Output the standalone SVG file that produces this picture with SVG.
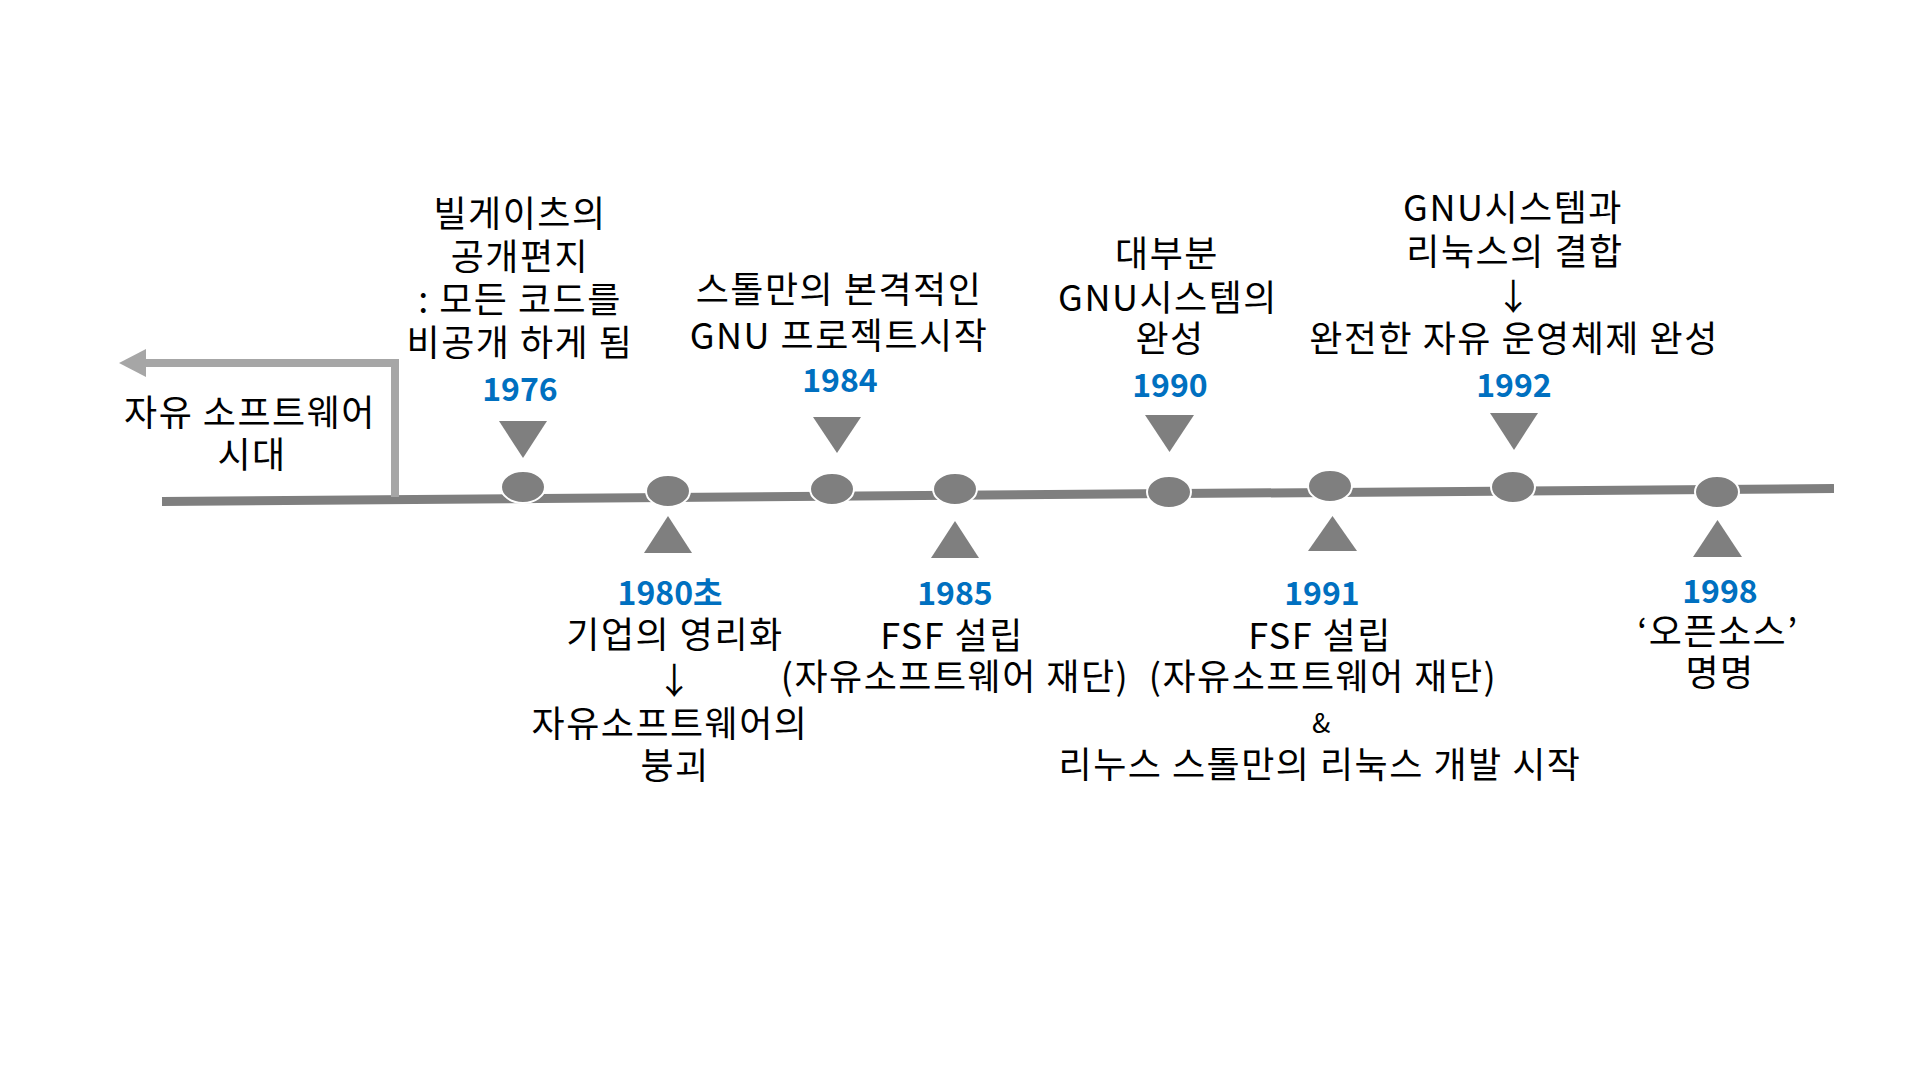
<svg xmlns="http://www.w3.org/2000/svg" width="1920" height="1080" viewBox="0 0 1920 1080">
<style>
.t{font-family:"Noto Sans CJK KR","Noto Sans",sans-serif;font-size:36px;letter-spacing:1.5px;fill:#000;text-anchor:middle}
.y{font-family:"Noto Sans CJK KR","Noto Sans",sans-serif;font-size:32px;font-weight:bold;fill:#0070c0;text-anchor:middle}
.n{fill:#7f7f7f;stroke:#fff;stroke-width:2}
.tri{fill:#7f7f7f}
</style>
<rect width="1920" height="1080" fill="#fff"/>
<g id="connectors">
<line x1="162" y1="501.5" x2="1834" y2="488.5" stroke="#7f7f7f" stroke-width="9"/>
<polyline points="395,497 395,363 143,363" fill="none" stroke="#a6a6a6" stroke-width="8"/>
<polygon points="119,363 146,349 146,377" fill="#a6a6a6"/>
</g>
<g id="era">
<text class="t" x="250" y="426">자유 소프트웨어</text>
<text class="t" x="252" y="468">시대</text>
</g>
<g id="node-1976">
<ellipse class="n" cx="523" cy="487" rx="22" ry="16"/>
<polygon class="tri" points="499,421 547,421 523,458"/>
<text class="y" x="520" y="401">1976</text>
<text class="t" x="520" y="227">빌게이츠의</text>
<text class="t" x="520" y="270">공개편지</text>
<text class="t" x="520" y="313">: 모든 코드를</text>
<text class="t" x="520" y="356">비공개 하게 됨</text>
</g>
<g id="node-1980">
<ellipse class="n" cx="668" cy="491" rx="22" ry="16"/>
<polygon class="tri" points="644,553 692,553 668,516"/>
<text class="y" x="670" y="605">1980초</text>
<text class="t" x="675" y="648">기업의 영리화</text>
<text class="t" x="675" y="694">↓</text>
<text class="t" x="670" y="737">자유소프트웨어의</text>
<text class="t" x="675" y="779">붕괴</text>
</g>
<g id="node-1984">
<ellipse class="n" cx="832" cy="489" rx="22" ry="16"/>
<polygon class="tri" points="813,417 861,417 837,453"/>
<text class="y" x="840" y="392">1984</text>
<text class="t" x="839" y="303">스톨만의 본격적인</text>
<text class="t" x="839" y="349">GNU 프로젝트시작</text>
</g>
<g id="node-1985">
<ellipse class="n" cx="955" cy="489" rx="22" ry="16"/>
<polygon class="tri" points="931,558 979,558 955,521"/>
<text class="y" x="955" y="605">1985</text>
<text class="t" x="952" y="649">FSF 설립</text>
<text class="t" x="955" y="690">(자유소프트웨어 재단)</text>
</g>
<g id="node-1990">
<ellipse class="n" cx="1169" cy="492" rx="22" ry="16"/>
<polygon class="tri" points="1145,415 1194,415 1169.5,452"/>
<text class="y" x="1170" y="397">1990</text>
<text class="t" x="1167" y="267">대부분</text>
<text class="t" x="1168" y="311">GNU시스템의</text>
<text class="t" x="1170" y="352">완성</text>
</g>
<g id="node-1991">
<ellipse class="n" cx="1330" cy="486" rx="22" ry="16"/>
<polygon class="tri" points="1308,551 1357,551 1332.5,516"/>
<text class="y" x="1322" y="605">1991</text>
<text class="t" x="1320" y="649">FSF 설립</text>
<text class="t" x="1323" y="690">(자유소프트웨어 재단)</text>
<text class="t" x="1322" y="733" style="font-size:27px">&amp;</text>
<text class="t" x="1320" y="778">리누스 스톨만의 리눅스 개발 시작</text>
</g>
<g id="node-1992">
<ellipse class="n" cx="1513" cy="487" rx="22" ry="16"/>
<polygon class="tri" points="1490,413 1538,413 1514,450"/>
<text class="y" x="1514" y="397">1992</text>
<text class="t" x="1513" y="221">GNU시스템과</text>
<text class="t" x="1515" y="265">리눅스의 결합</text>
<text class="t" x="1514" y="310">↓</text>
<text class="t" x="1514" y="352">완전한 자유 운영체제 완성</text>
</g>
<g id="node-1998">
<ellipse class="n" cx="1717" cy="492" rx="22" ry="16"/>
<polygon class="tri" points="1693,557 1742,557 1717.5,520"/>
<text class="y" x="1720" y="603">1998</text>
<text class="t" x="1718" y="645">‘오픈소스’</text>
<text class="t" x="1720" y="686">명명</text>
</g>
</svg>
